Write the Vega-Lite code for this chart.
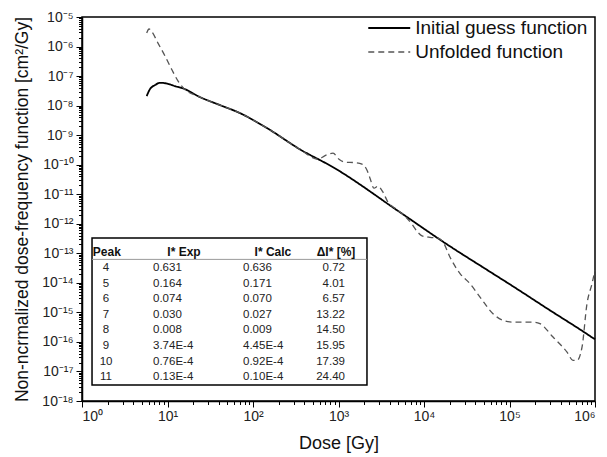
{
  "$schema": "https://vega.github.io/schema/vega-lite/v6.json",
  "width": 513,
  "height": 384,
  "autosize": {"type": "none"},
  "padding": {"left": 82, "top": 17, "right": 12, "bottom": 56},
  "background": "white",
  "config": {
    "view": {"stroke": "black", "strokeWidth": 1.5},
    "font": "Liberation Sans",
    "axis": {"grid": false, "domainColor": "black", "tickColor": "black", "domainWidth": 1.5, "tickWidth": 1, "labelColor": "#222", "titleColor": "#111", "labelFont": "Liberation Sans", "titleFont": "Liberation Sans", "titleFontWeight": "normal"}
  },
  "datasets": {
    "lines": [
      {"dose": 5.71, "f": 2.10e-8, "series": "Initial guess function"},
      {"dose": 6.24, "f": 3.62e-8, "series": "Initial guess function"},
      {"dose": 7.14, "f": 4.95e-8, "series": "Initial guess function"},
      {"dose": 8.17, "f": 5.93e-8, "series": "Initial guess function"},
      {"dose": 9.87, "f": 5.57e-8, "series": "Initial guess function"},
      {"dose": 12.2, "f": 4.58e-8, "series": "Initial guess function"},
      {"dose": 15.2, "f": 3.83e-8, "series": "Initial guess function"},
      {"dose": 24.0, "f": 1.94e-8, "series": "Initial guess function"},
      {"dose": 41.1, "f": 1.04e-8, "series": "Initial guess function"},
      {"dose": 70.4, "f": 5.57e-9, "series": "Initial guess function"},
      {"dose": 146, "f": 1.73e-9, "series": "Initial guess function"},
      {"dose": 355, "f": 3.3e-10, "series": "Initial guess function"},
      {"dose": 863, "f": 8.22e-11, "series": "Initial guess function"},
      {"dose": 5240, "f": 2.45e-12, "series": "Initial guess function"},
      {"dose": 20100, "f": 1.73e-13, "series": "Initial guess function"},
      {"dose": 49000, "f": 3.35e-14, "series": "Initial guess function"},
      {"dose": 110000, "f": 7.6e-15, "series": "Initial guess function"},
      {"dose": 298000, "f": 1.17e-15, "series": "Initial guess function"},
      {"dose": 724000, "f": 2.27e-16, "series": "Initial guess function"},
      {"dose": 1000000, "f": 1.22e-16, "series": "Initial guess function"},
      {"dose": 5.71, "f": 2.87e-6, "series": "Unfolded function"},
      {"dose": 6.08, "f": 3.92e-6, "series": "Unfolded function"},
      {"dose": 6.59, "f": 3.10e-6, "series": "Unfolded function"},
      {"dose": 7.74, "f": 1.31e-6, "series": "Unfolded function"},
      {"dose": 9.35, "f": 4.77e-7, "series": "Unfolded function"},
      {"dose": 11.3, "f": 1.60e-7, "series": "Unfolded function"},
      {"dose": 13.3, "f": 6.78e-8, "series": "Unfolded function"},
      {"dose": 15.2, "f": 4.07e-8, "series": "Unfolded function"},
      {"dose": 24.0, "f": 1.94e-8, "series": "Unfolded function"},
      {"dose": 41.1, "f": 1.04e-8, "series": "Unfolded function"},
      {"dose": 70.4, "f": 5.57e-9, "series": "Unfolded function"},
      {"dose": 146, "f": 1.73e-9, "series": "Unfolded function"},
      {"dose": 355, "f": 3.3e-10, "series": "Unfolded function"},
      {"dose": 575, "f": 1.53e-10, "series": "Unfolded function"},
      {"dose": 714, "f": 2.10e-10, "series": "Unfolded function"},
      {"dose": 863, "f": 2.45e-10, "series": "Unfolded function"},
      {"dose": 1014, "f": 1.53e-10, "series": "Unfolded function"},
      {"dose": 1191, "f": 1.22e-10, "series": "Unfolded function"},
      {"dose": 1560, "f": 1.17e-10, "series": "Unfolded function"},
      {"dose": 1883, "f": 1.04e-10, "series": "Unfolded function"},
      {"dose": 2155, "f": 6.51e-11, "series": "Unfolded function"},
      {"dose": 2336, "f": 3.48e-11, "series": "Unfolded function"},
      {"dose": 2600, "f": 1.60e-11, "series": "Unfolded function"},
      {"dose": 2898, "f": 1.87e-11, "series": "Unfolded function"},
      {"dose": 3315, "f": 1.17e-11, "series": "Unfolded function"},
      {"dose": 3793, "f": 5.36e-12, "series": "Unfolded function"},
      {"dose": 4580, "f": 3.35e-12, "series": "Unfolded function"},
      {"dose": 6000, "f": 1.8e-12, "series": "Unfolded function"},
      {"dose": 7240, "f": 9.6e-13, "series": "Unfolded function"},
      {"dose": 8280, "f": 5.57e-13, "series": "Unfolded function"},
      {"dose": 9480, "f": 3.92e-13, "series": "Unfolded function"},
      {"dose": 11750, "f": 3.48e-13, "series": "Unfolded function"},
      {"dose": 14200, "f": 3.35e-13, "series": "Unfolded function"},
      {"dose": 16700, "f": 2.42e-13, "series": "Unfolded function"},
      {"dose": 20100, "f": 7.5e-14, "series": "Unfolded function"},
      {"dose": 26400, "f": 2.05e-14, "series": "Unfolded function"},
      {"dose": 34500, "f": 9.4e-15, "series": "Unfolded function"},
      {"dose": 45200, "f": 3.30e-15, "series": "Unfolded function"},
      {"dose": 64100, "f": 9.0e-16, "series": "Unfolded function"},
      {"dose": 83900, "f": 5.36e-16, "series": "Unfolded function"},
      {"dose": 110000, "f": 4.69e-16, "series": "Unfolded function"},
      {"dose": 188000, "f": 4.69e-16, "series": "Unfolded function"},
      {"dose": 227000, "f": 4.14e-16, "series": "Unfolded function"},
      {"dose": 323000, "f": 1.46e-16, "series": "Unfolded function"},
      {"dose": 471000, "f": 4.51e-17, "series": "Unfolded function"},
      {"dose": 553000, "f": 2.36e-17, "series": "Unfolded function"},
      {"dose": 615000, "f": 2.36e-17, "series": "Unfolded function"},
      {"dose": 705000, "f": 6.67e-17, "series": "Unfolded function"},
      {"dose": 806000, "f": 1.97e-15, "series": "Unfolded function"},
      {"dose": 923000, "f": 9.4e-15, "series": "Unfolded function"},
      {"dose": 1000000, "f": 2.65e-14, "series": "Unfolded function"}
    ],
    "table": [
      {"row": 1, "peak": "4", "exp": "0.631", "calc": "0.636", "delta": "0.72"},
      {"row": 2, "peak": "5", "exp": "0.164", "calc": "0.171", "delta": "4.01"},
      {"row": 3, "peak": "6", "exp": "0.074", "calc": "0.070", "delta": "6.57"},
      {"row": 4, "peak": "7", "exp": "0.030", "calc": "0.027", "delta": "13.22"},
      {"row": 5, "peak": "8", "exp": "0.008", "calc": "0.009", "delta": "14.50"},
      {"row": 6, "peak": "9", "exp": "3.74E-4", "calc": "4.45E-4", "delta": "15.95"},
      {"row": 7, "peak": "10", "exp": "0.76E-4", "calc": "0.92E-4", "delta": "17.39"},
      {"row": 8, "peak": "11", "exp": "0.13E-4", "calc": "0.10E-4", "delta": "24.40"}
    ],
    "header": [
      {"row": 0, "peak": "Peak", "exp": "I* Exp", "calc": "I* Calc", "delta": "ΔI* [%]"}
    ]
  },
  "layer": [
    {
      "data": {"name": "lines"},
      "layer": [
        {
          "mark": {"type": "line", "interpolate": "monotone"},
          "encoding": {
            "x": {"field": "dose", "type": "quantitative", "scale": {"type": "log", "domain": [1, 1000000], "nice": false},
              "axis": {"values": [1, 10, 100, 1000, 10000, 100000, 1000000], "title": "Dose [Gy]", "tickSize": 6, "labelFontSize": 14, "labelPadding": 2, "titleFontSize": 18, "titlePadding": 11,
                "labelExpr": "'10' + replace(replace(replace(replace(replace(replace(replace(replace(replace(replace(replace(toString(round(log(datum.value)/LN10)), regexp('-','g'), '⁻'), regexp('0','g'), '⁰'), regexp('1','g'), '¹'), regexp('2','g'), '²'), regexp('3','g'), '³'), regexp('4','g'), '⁴'), regexp('5','g'), '⁵'), regexp('6','g'), '⁶'), regexp('7','g'), '⁷'), regexp('8','g'), '⁸'), regexp('9','g'), '⁹')"}},
            "y": {"field": "f", "type": "quantitative", "scale": {"type": "log", "domain": [1e-18, 1e-5], "nice": false},
              "axis": {"values": [1e-18, 1e-17, 1e-16, 1e-15, 1e-14, 1e-13, 1e-12, 1e-11, 1e-10, 1e-9, 1e-8, 1e-7, 1e-6, 1e-5], "title": "Non-ncrmalized dose-frequency function [cm²/Gy]", "tickSize": 6, "labelFontSize": 14, "labelPadding": 3, "titleFontSize": 17.5, "titlePadding": 10,
                "labelExpr": "'10' + replace(replace(replace(replace(replace(replace(replace(replace(replace(replace(replace(toString(round(log(datum.value)/LN10)), regexp('-','g'), '⁻'), regexp('0','g'), '⁰'), regexp('1','g'), '¹'), regexp('2','g'), '²'), regexp('3','g'), '³'), regexp('4','g'), '⁴'), regexp('5','g'), '⁵'), regexp('6','g'), '⁶'), regexp('7','g'), '⁷'), regexp('8','g'), '⁸'), regexp('9','g'), '⁹')"}},
            "color": {"field": "series", "type": "nominal", "scale": {"domain": ["Initial guess function", "Unfolded function"], "range": ["#000000", "#555555"]},
              "legend": {"orient": "none", "legendX": 297.75, "legendY": 1.5, "title": null, "symbolType": "M-4,0H4", "symbolSize": 110, "symbolStrokeWidth": 1.5, "labelFontSize": 19, "labelFont": "Liberation Sans", "labelColor": "#111", "rowPadding": 4, "labelOffset": 16.5, "padding": 0, "labelLimit": 300}},
            "strokeDash": {"field": "series", "type": "nominal", "scale": {"domain": ["Initial guess function", "Unfolded function"], "range": [[1, 0], [6, 4]]},
              "legend": {"orient": "none", "legendX": 297.75, "legendY": 1.5, "title": null, "symbolType": "M-4,0H4", "symbolSize": 110, "symbolStrokeWidth": 1.5, "labelFontSize": 19, "labelFont": "Liberation Sans", "labelColor": "#111", "rowPadding": 4, "labelOffset": 16.5, "padding": 0, "labelLimit": 300}},
            "strokeWidth": {"field": "series", "type": "nominal", "scale": {"domain": ["Initial guess function", "Unfolded function"], "range": [1.8, 1.3]}, "legend": null}
          }
        },
        {
          "mark": {"type": "point", "opacity": 0},
          "encoding": {
            "x": {"field": "dose", "type": "quantitative", "scale": {"type": "log", "domain": [1, 1000000], "nice": false},
              "axis": {"orient": "bottom", "values": [2,3,4,5,6,7,8,9,20,30,40,50,60,70,80,90,200,300,400,500,600,700,800,900,2000,3000,4000,5000,6000,7000,8000,9000,20000,30000,40000,50000,60000,70000,80000,90000,200000,300000,400000,500000,600000,700000,800000,900000], "labels": false, "domain": false, "title": null, "tickSize": 3.5}},
            "y": {"field": "f", "type": "quantitative", "scale": {"type": "log", "domain": [1e-18, 1e-5], "nice": false},
              "axis": {"orient": "left", "values": [2e-18,3e-18,4e-18,5e-18,6e-18,7e-18,8e-18,9e-18,2e-17,3e-17,4e-17,5e-17,6e-17,7e-17,8e-17,9e-17,2e-16,3e-16,4e-16,5e-16,6e-16,7e-16,8e-16,9e-16,2e-15,3e-15,4e-15,5e-15,6e-15,7e-15,8e-15,9e-15,2e-14,3e-14,4e-14,5e-14,6e-14,7e-14,8e-14,9e-14,2e-13,3e-13,4e-13,5e-13,6e-13,7e-13,8e-13,9e-13,2e-12,3e-12,4e-12,5e-12,6e-12,7e-12,8e-12,9e-12,2e-11,3e-11,4e-11,5e-11,6e-11,7e-11,8e-11,9e-11,2e-10,3e-10,4e-10,5e-10,6e-10,7e-10,8e-10,9e-10,2e-9,3e-9,4e-9,5e-9,6e-9,7e-9,8e-9,9e-9,2e-8,3e-8,4e-8,5e-8,6e-8,7e-8,8e-8,9e-8,2e-7,3e-7,4e-7,5e-7,6e-7,7e-7,8e-7,9e-7,2e-6,3e-6,4e-6,5e-6,6e-6,7e-6,8e-6,9e-6], "labels": false, "domain": false, "title": null, "tickSize": 3.5}}
          }
        }
      ],
      "resolve": {"axis": {"x": "independent", "y": "independent"}}
    },
    {
      "layer": [
        {
          "data": {"values": [{}]},
          "mark": {"type": "rect", "fill": "white", "stroke": "black", "strokeWidth": 1.5},
          "encoding": {
            "x": {"datum": 1.31, "type": "quantitative", "axis": null},
            "x2": {"datum": 2153},
            "y": {"datum": -0.92, "type": "quantitative", "scale": {"domain": [-15.09, 9.53], "reverse": true}, "axis": null},
            "y2": {"datum": 8.5}
          }
        },
        {
          "data": {"values": [{}]},
          "mark": {"type": "rule", "stroke": "#999", "strokeWidth": 1},
          "encoding": {
            "x": {"datum": 1.31, "type": "quantitative", "axis": null},
            "x2": {"datum": 2153},
            "y": {"datum": 0.45, "type": "quantitative", "scale": {"domain": [-15.09, 9.53], "reverse": true}, "axis": null}
          }
        },
        {
          "data": {"name": "header"},
          "mark": {"type": "text", "align": "center", "baseline": "middle", "fontWeight": "bold", "fontSize": 12, "color": "#111"},
          "encoding": {
            "x": {"datum": 1.95, "type": "quantitative", "axis": null},
            "y": {"field": "row", "type": "quantitative", "scale": {"domain": [-15.09, 9.53], "reverse": true}, "axis": null},
            "text": {"field": "peak"}
          }
        },
        {
          "data": {"name": "header"},
          "mark": {"type": "text", "align": "center", "baseline": "middle", "fontWeight": "bold", "fontSize": 12, "color": "#111"},
          "encoding": {
            "x": {"datum": 15.6, "type": "quantitative", "axis": null},
            "y": {"field": "row", "type": "quantitative", "scale": {"domain": [-15.09, 9.53], "reverse": true}, "axis": null},
            "text": {"field": "exp"}
          }
        },
        {
          "data": {"name": "header"},
          "mark": {"type": "text", "align": "center", "baseline": "middle", "fontWeight": "bold", "fontSize": 12, "color": "#111"},
          "encoding": {
            "x": {"datum": 171, "type": "quantitative", "axis": null},
            "y": {"field": "row", "type": "quantitative", "scale": {"domain": [-15.09, 9.53], "reverse": true}, "axis": null},
            "text": {"field": "calc"}
          }
        },
        {
          "data": {"name": "header"},
          "mark": {"type": "text", "align": "center", "baseline": "middle", "fontWeight": "bold", "fontSize": 12, "color": "#111"},
          "encoding": {
            "x": {"datum": 935, "type": "quantitative", "axis": null},
            "y": {"field": "row", "type": "quantitative", "scale": {"domain": [-15.09, 9.53], "reverse": true}, "axis": null},
            "text": {"field": "delta"}
          }
        },
        {
          "data": {"name": "table"},
          "mark": {"type": "text", "align": "center", "baseline": "middle", "fontSize": 11.5, "color": "#222"},
          "encoding": {
            "x": {"datum": 1.91, "type": "quantitative", "axis": null},
            "y": {"field": "row", "type": "quantitative", "scale": {"domain": [-15.09, 9.53], "reverse": true}, "axis": null},
            "text": {"field": "peak"}
          }
        },
        {
          "data": {"name": "table"},
          "mark": {"type": "text", "align": "left", "baseline": "middle", "fontSize": 11.5, "color": "#222"},
          "encoding": {
            "x": {"datum": 6.77, "type": "quantitative", "axis": null},
            "y": {"field": "row", "type": "quantitative", "scale": {"domain": [-15.09, 9.53], "reverse": true}, "axis": null},
            "text": {"field": "exp"}
          }
        },
        {
          "data": {"name": "table"},
          "mark": {"type": "text", "align": "left", "baseline": "middle", "fontSize": 11.5, "color": "#222"},
          "encoding": {
            "x": {"datum": 76.4, "type": "quantitative", "axis": null},
            "y": {"field": "row", "type": "quantitative", "scale": {"domain": [-15.09, 9.53], "reverse": true}, "axis": null},
            "text": {"field": "calc"}
          }
        },
        {
          "data": {"name": "table"},
          "mark": {"type": "text", "align": "right", "baseline": "middle", "fontSize": 11.5, "color": "#222"},
          "encoding": {
            "x": {"datum": 1191, "type": "quantitative", "axis": null},
            "y": {"field": "row", "type": "quantitative", "scale": {"domain": [-15.09, 9.53], "reverse": true}, "axis": null},
            "text": {"field": "delta"}
          }
        }
      ]
    }
  ],
  "resolve": {"scale": {"y": "independent"}, "axis": {"x": "independent", "y": "independent"}}
}
